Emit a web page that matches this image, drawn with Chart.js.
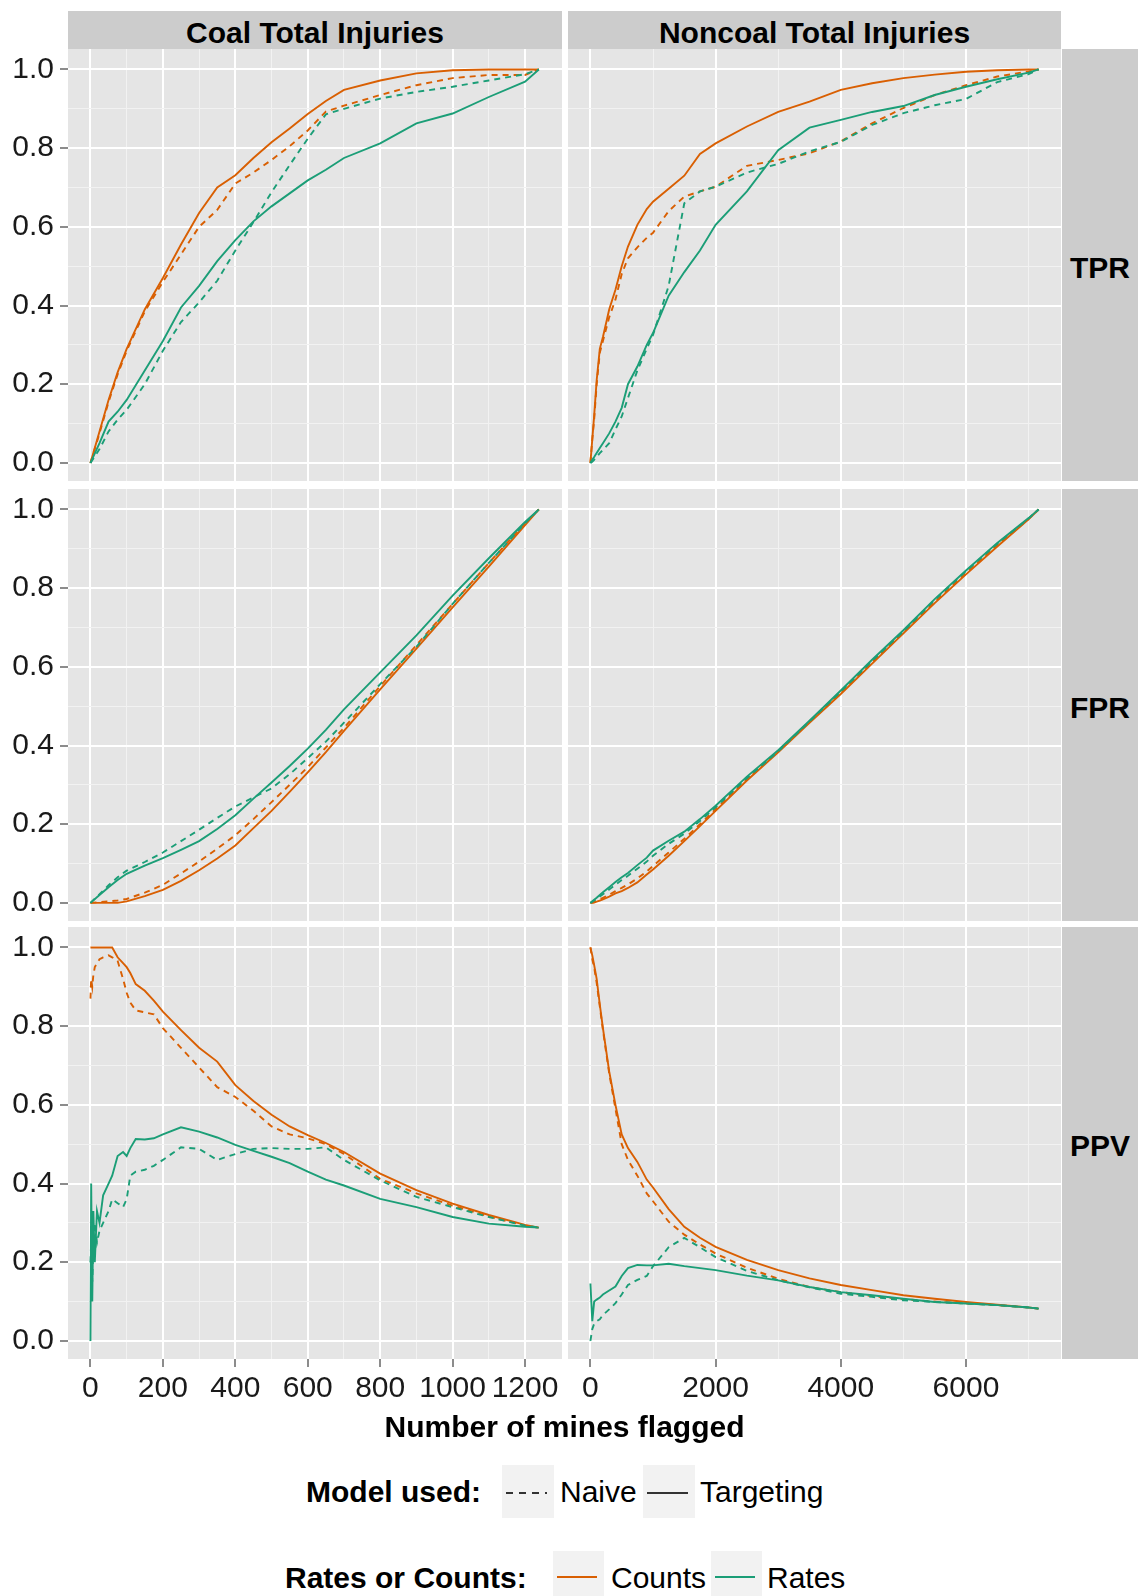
<!DOCTYPE html>
<html>
<head>
<meta charset="utf-8">
<script src="https://cdn.jsdelivr.net/npm/chart.js@4.4.1/dist/chart.umd.min.js"></script>
<style>
  body { margin: 0; background: #fff; }
  #fig { position: relative; width: 1138px; height: 1596px; overflow: hidden; font-family: "Liberation Sans", Arial, sans-serif; color: #000; }
  #fig canvas { position: absolute; }
  .strip { position: absolute; background: #ccc; }
  .stxt { position: absolute; left: 0; right: 0; text-align: center; font-size: 30px; line-height: 30px; font-weight: bold; white-space: nowrap; }
  .txt { position: absolute; font-size: 30px; line-height: 30px; white-space: nowrap; }
  .bold { font-weight: bold; }
  .key { position: absolute; background: #f2f2f2; }
  .key svg { position: absolute; left: 0; top: 0; }
</style>
</head>
<body>
<div id="fig"></div>
<script>
// ---- data ----
const coalX = [0, 25, 50, 75, 100, 150, 200, 250, 300, 350, 400, 450, 500, 550, 600, 650, 700, 800, 900, 1000, 1100, 1200, 1238];
const coalPpvX = [0, 2, 5, 8, 12, 18, 25, 35, 50, 60, 75, 90, 100, 110, 125, 150, 175, 200, 250, 300, 350, 400, 450, 500, 550, 600, 650, 700, 800, 900, 1000, 1100, 1200, 1238];
const noncoalX = [0, 30, 60, 100, 150, 200, 300, 400, 500, 600, 750, 900, 1000, 1250, 1500, 1750, 2000, 2500, 3000, 3500, 4000, 4500, 5000, 5500, 6000, 6500, 7000, 7160];

// Coal TPR
const coalTprCountsTarget = [0, 0.08, 0.16, 0.23, 0.29, 0.39, 0.47, 0.555, 0.635, 0.70, 0.731, 0.775, 0.815, 0.85, 0.887, 0.92, 0.948, 0.972, 0.99, 0.998, 1.0, 1.0, 1.0];
const coalTprCountsNaive  = [0, 0.075, 0.155, 0.225, 0.285, 0.385, 0.46, 0.53, 0.60, 0.643, 0.71, 0.738, 0.77, 0.805, 0.845, 0.893, 0.908, 0.935, 0.96, 0.978, 0.986, 0.986, 1.0];
const coalTprRatesTarget  = [0, 0.05, 0.105, 0.13, 0.16, 0.235, 0.31, 0.395, 0.45, 0.513, 0.566, 0.614, 0.652, 0.685, 0.718, 0.745, 0.775, 0.812, 0.863, 0.888, 0.93, 0.969, 1.0];
const coalTprRatesNaive   = [0, 0.035, 0.08, 0.11, 0.135, 0.2, 0.285, 0.358, 0.408, 0.463, 0.54, 0.612, 0.688, 0.757, 0.824, 0.886, 0.9, 0.926, 0.943, 0.956, 0.972, 0.988, 1.0];
// Coal FPR
const coalFprCountsTarget = [0, 0, 0, 0, 0.004, 0.017, 0.033, 0.056, 0.083, 0.113, 0.146, 0.19, 0.234, 0.282, 0.332, 0.383, 0.437, 0.543, 0.646, 0.751, 0.855, 0.96, 1.0];
const coalFprCountsNaive  = [0, 0.002, 0.004, 0.006, 0.01, 0.026, 0.046, 0.075, 0.105, 0.138, 0.172, 0.213, 0.256, 0.3, 0.345, 0.395, 0.445, 0.551, 0.655, 0.76, 0.864, 0.965, 1.0];
const coalFprRatesTarget  = [0, 0.02, 0.04, 0.058, 0.074, 0.095, 0.114, 0.135, 0.157, 0.188, 0.223, 0.265, 0.306, 0.348, 0.392, 0.44, 0.492, 0.586, 0.68, 0.781, 0.876, 0.968, 1.0];
const coalFprRatesNaive   = [0, 0.022, 0.045, 0.065, 0.082, 0.104, 0.128, 0.157, 0.186, 0.216, 0.245, 0.268, 0.291, 0.327, 0.368, 0.41, 0.458, 0.556, 0.651, 0.76, 0.864, 0.965, 1.0];
// Coal PPV
const coalPpvCountsTarget = [1, 1, 1, 1, 1, 1, 1, 1, 1, 1, 0.975, 0.96, 0.95, 0.935, 0.907, 0.89, 0.865, 0.837, 0.79, 0.745, 0.71, 0.65, 0.61, 0.575, 0.545, 0.523, 0.503, 0.48, 0.425, 0.383, 0.349, 0.32, 0.295, 0.288];
const coalPpvCountsNaive  = [0.87, 0.92, 0.9, 0.93, 0.95, 0.96, 0.97, 0.975, 0.98, 0.975, 0.966, 0.92, 0.885, 0.86, 0.84, 0.835, 0.83, 0.795, 0.745, 0.695, 0.645, 0.62, 0.585, 0.545, 0.525, 0.515, 0.5, 0.475, 0.412, 0.375, 0.344, 0.316, 0.293, 0.288];
const coalPpvRatesTarget  = [0, 0.4, 0.1, 0.33, 0.2, 0.33, 0.3, 0.37, 0.4, 0.42, 0.47, 0.48, 0.47, 0.49, 0.513, 0.512, 0.515, 0.525, 0.543, 0.532, 0.517, 0.498, 0.483, 0.468, 0.452, 0.43, 0.41, 0.395, 0.361, 0.34, 0.315, 0.298, 0.29, 0.288];
const coalPpvRatesNaive   = [0.2, 0.25, 0.15, 0.25, 0.3, 0.25, 0.28, 0.3, 0.33, 0.36, 0.35, 0.34, 0.36, 0.42, 0.43, 0.435, 0.445, 0.46, 0.492, 0.488, 0.46, 0.475, 0.488, 0.49, 0.488, 0.488, 0.492, 0.46, 0.408, 0.366, 0.34, 0.315, 0.293, 0.288];
// Noncoal TPR
const nonTprCountsTarget = [0, 0.06, 0.12, 0.21, 0.29, 0.32, 0.39, 0.44, 0.5, 0.55, 0.605, 0.645, 0.664, 0.697, 0.73, 0.785, 0.812, 0.855, 0.892, 0.918, 0.948, 0.965, 0.978, 0.987, 0.994, 0.998, 1.0, 1.0];
const nonTprCountsNaive  = [0, 0.06, 0.11, 0.2, 0.28, 0.31, 0.37, 0.415, 0.48, 0.52, 0.548, 0.572, 0.585, 0.64, 0.677, 0.69, 0.702, 0.755, 0.77, 0.787, 0.817, 0.863, 0.902, 0.935, 0.96, 0.982, 0.995, 1.0];
const nonTprRatesTarget  = [0, 0.008, 0.015, 0.025, 0.038, 0.05, 0.075, 0.105, 0.14, 0.2, 0.245, 0.3, 0.33, 0.425, 0.485, 0.54, 0.605, 0.69, 0.795, 0.852, 0.872, 0.892, 0.907, 0.935, 0.956, 0.975, 0.992, 1.0];
const nonTprRatesNaive   = [0, 0.003, 0.008, 0.015, 0.025, 0.033, 0.05, 0.085, 0.118, 0.165, 0.235, 0.29, 0.325, 0.45, 0.66, 0.69, 0.702, 0.738, 0.76, 0.792, 0.816, 0.859, 0.889, 0.909, 0.925, 0.968, 0.988, 1.0];
// Noncoal FPR
const nonFprCountsTarget = [0, 0, 0.001, 0.003, 0.006, 0.009, 0.016, 0.024, 0.03, 0.038, 0.052, 0.072, 0.085, 0.12, 0.157, 0.195, 0.234, 0.311, 0.383, 0.458, 0.531, 0.608, 0.685, 0.762, 0.835, 0.906, 0.975, 1.0];
const nonFprCountsNaive  = [0, 0.001, 0.002, 0.005, 0.009, 0.013, 0.021, 0.03, 0.038, 0.047, 0.062, 0.08, 0.094, 0.128, 0.163, 0.2, 0.238, 0.314, 0.386, 0.461, 0.535, 0.612, 0.688, 0.765, 0.838, 0.91, 0.976, 1.0];
const nonFprRatesTarget  = [0, 0.004, 0.008, 0.013, 0.02, 0.027, 0.04, 0.053, 0.065, 0.076, 0.096, 0.115, 0.133, 0.158, 0.181, 0.213, 0.247, 0.321, 0.388, 0.463, 0.54, 0.618, 0.693, 0.772, 0.845, 0.915, 0.978, 1.0];
const nonFprRatesNaive   = [0, 0.003, 0.006, 0.01, 0.016, 0.022, 0.034, 0.046, 0.058, 0.069, 0.087, 0.105, 0.12, 0.15, 0.176, 0.208, 0.243, 0.317, 0.385, 0.461, 0.537, 0.615, 0.69, 0.77, 0.843, 0.913, 0.977, 1.0];
// Noncoal PPV
const nonPpvCountsTarget = [1.0, 0.98, 0.955, 0.92, 0.855, 0.795, 0.685, 0.6, 0.525, 0.49, 0.455, 0.41, 0.39, 0.335, 0.29, 0.262, 0.239, 0.206, 0.18, 0.159, 0.142, 0.129, 0.116, 0.107, 0.099, 0.092, 0.085, 0.082];
const nonPpvCountsNaive  = [1.0, 0.97, 0.95, 0.91, 0.85, 0.79, 0.68, 0.59, 0.5, 0.46, 0.42, 0.375, 0.355, 0.303, 0.27, 0.245, 0.222, 0.186, 0.158, 0.137, 0.124, 0.114, 0.106, 0.1, 0.095, 0.091, 0.085, 0.082];
const nonPpvRatesTarget  = [0.146, 0.05, 0.1, 0.105, 0.11, 0.118, 0.128, 0.138, 0.165, 0.185, 0.193, 0.192, 0.192, 0.196, 0.19, 0.185, 0.18, 0.166, 0.154, 0.137, 0.124, 0.116, 0.107, 0.099, 0.095, 0.091, 0.085, 0.082];
const nonPpvRatesNaive   = [0, 0.03, 0.044, 0.05, 0.055, 0.066, 0.08, 0.096, 0.118, 0.142, 0.155, 0.165, 0.19, 0.238, 0.262, 0.238, 0.213, 0.178, 0.154, 0.136, 0.12, 0.112, 0.103, 0.099, 0.095, 0.091, 0.085, 0.082];

// facet labels and axis breaks
const colLabels = ["Coal Total Injuries", "Noncoal Total Injuries"];
const rowLabels = ["TPR", "FPR", "PPV"];
const coalMajor = [0, 200, 400, 600, 800, 1000, 1200];
const coalMinor = [100, 300, 500, 700, 900, 1100];
const noncoalMajor = [0, 2000, 4000, 6000];
const noncoalMinor = [1000, 3000, 5000, 7000];
const yMajor = [0, 0.2, 0.4, 0.6, 0.8, 1.0];
const yMinor = [0.1, 0.3, 0.5, 0.7, 0.9];

const COUNTS = '#D95F02';
const RATES = '#1B9E77';
const FONT = '"Liberation Sans", Arial, sans-serif';

// ---- layout (pixels) ----
const colBox = [{ left: 68, right: 562, axisW: 68 }, { left: 568, right: 1061, axisW: 0 }];
const rowBox = [{ top: 49, bottom: 481 }, { top: 489, bottom: 921 }, { top: 927, bottom: 1359 }];
const xAxisH = 60;

const columns = [
  { min: -62, max: 1302, major: coalMajor, minor: coalMinor },
  { min: -358, max: 7518, major: noncoalMajor, minor: noncoalMinor }
];

// [row][col] -> x values + series (rates first so they paint on top)
const panels = [
  [
    { x: coalX, y: [coalTprRatesTarget, coalTprRatesNaive, coalTprCountsTarget, coalTprCountsNaive] },
    { x: noncoalX, y: [nonTprRatesTarget, nonTprRatesNaive, nonTprCountsTarget, nonTprCountsNaive] }
  ],
  [
    { x: coalX, y: [coalFprRatesTarget, coalFprRatesNaive, coalFprCountsTarget, coalFprCountsNaive] },
    { x: noncoalX, y: [nonFprRatesTarget, nonFprRatesNaive, nonFprCountsTarget, nonFprCountsNaive] }
  ],
  [
    { x: coalPpvX, y: [coalPpvRatesTarget, coalPpvRatesNaive, coalPpvCountsTarget, coalPpvCountsNaive] },
    { x: noncoalX, y: [nonPpvRatesTarget, nonPpvRatesNaive, nonPpvCountsTarget, nonPpvCountsNaive] }
  ]
];
const seriesStyle = [
  { color: RATES, dash: false },
  { color: RATES, dash: true },
  { color: COUNTS, dash: false },
  { color: COUNTS, dash: true }
];

const fig = document.getElementById('fig');

// grey panel background under the grid
const panelBg = {
  id: 'panelBg',
  beforeDraw(chart) {
    const { ctx, chartArea: a } = chart;
    ctx.save();
    ctx.fillStyle = '#E5E5E5';
    ctx.fillRect(a.left, a.top, a.right - a.left, a.bottom - a.top);
    ctx.restore();
  }
};

function gridOpts(majors, showTicks) {
  const isMajor = ctx => ctx.tick && majors.includes(ctx.tick.value);
  return {
    color: ctx => isMajor(ctx) ? '#FFFFFF' : '#F2F2F2',
    lineWidth: ctx => isMajor(ctx) ? 2 : 1,
    drawTicks: showTicks,
    tickLength: 8,
    tickWidth: 2,
    tickColor: ctx => isMajor(ctx) ? '#8C8C8C' : 'rgba(0,0,0,0)'
  };
}

// keep the chart area glued to the panel rectangle
function noPad(s) {
  s.paddingLeft = 0; s.paddingRight = 0; s.paddingTop = 0; s.paddingBottom = 0;
}

function makePanel(r, c) {
  const cb = colBox[c], rb = rowBox[r], col = columns[c], p = panels[r][c];
  const showX = r === 2, showY = c === 0;
  const canvas = document.createElement('canvas');
  const w = cb.right - cb.left + cb.axisW;
  const h = rb.bottom - rb.top + (showX ? xAxisH : 0);
  canvas.width = w; canvas.height = h;
  canvas.style.left = (cb.left - cb.axisW) + 'px';
  canvas.style.top = rb.top + 'px';
  fig.appendChild(canvas);

  const xTicks = col.major.concat(col.minor).sort((a, b) => a - b);
  const yTicks = yMajor.concat(yMinor).sort((a, b) => a - b);

  new Chart(canvas, {
    type: 'line',
    data: {
      datasets: p.y.map((ys, i) => ({
        data: p.x.map((xv, j) => ({ x: xv, y: ys[j] })),
        borderColor: seriesStyle[i].color,
        borderWidth: 1.9,
        borderDash: seriesStyle[i].dash ? [6, 5] : [],
        pointRadius: 0,
        tension: 0,
        fill: false
      }))
    },
    options: {
      responsive: false,
      animation: false,
      devicePixelRatio: 1,
      events: [],
      layout: { padding: 0, autoPadding: false },
      plugins: { legend: { display: false }, tooltip: { enabled: false } },
      scales: {
        x: {
          type: 'linear', min: col.min, max: col.max,
          afterBuildTicks: s => { s.ticks = xTicks.map(v => ({ value: v })); },
          afterFit: s => { s.height = showX ? xAxisH : 0; noPad(s); },
          grid: gridOpts(col.major, showX),
          border: { display: false },
          ticks: {
            display: showX, autoSkip: false, maxRotation: 0, minRotation: 0, padding: 4,
            color: '#1A1A1A', font: { family: FONT, size: 30 },
            callback: v => col.major.includes(v) ? String(v) : ''
          }
        },
        y: {
          type: 'linear', min: -0.046, max: 1.052,
          afterBuildTicks: s => { s.ticks = yTicks.map(v => ({ value: v })); },
          afterFit: s => { s.width = cb.axisW; noPad(s); },
          grid: gridOpts(yMajor, showY),
          border: { display: false },
          ticks: {
            display: showY, autoSkip: false, padding: 6,
            color: '#1A1A1A', font: { family: FONT, size: 30 },
            callback: v => yMajor.includes(v) ? v.toFixed(1) : ''
          }
        }
      }
    },
    plugins: [panelBg]
  });
}

// strips
colLabels.forEach((lab, c) => {
  const cb = colBox[c];
  const d = document.createElement('div');
  d.className = 'strip';
  d.style.cssText = `left:${cb.left}px;top:11px;width:${cb.right - cb.left}px;height:38px;`;
  d.innerHTML = `<div class="stxt" style="top:7px">${lab}</div>`;
  fig.appendChild(d);
});
rowLabels.forEach((lab, r) => {
  const rb = rowBox[r];
  const hgt = rb.bottom - rb.top;
  const d = document.createElement('div');
  d.className = 'strip';
  d.style.cssText = `left:1062px;top:${rb.top}px;width:76px;height:${hgt}px;`;
  d.innerHTML = `<div class="stxt" style="top:${hgt / 2 - 12}px">${lab}</div>`;
  fig.appendChild(d);
});

for (let r = 0; r < 3; r++) for (let c = 0; c < 2; c++) makePanel(r, c);

// axis title + legends
function addText(txt, left, top, cls, center) {
  const d = document.createElement('div');
  d.className = 'txt ' + (cls || '');
  d.textContent = txt;
  d.style.top = top + 'px';
  if (center) { d.style.left = (left - 300) + 'px'; d.style.width = '600px'; d.style.textAlign = 'center'; }
  else d.style.left = left + 'px';
  fig.appendChild(d);
}
function addKey(left, top, w, h, lineY, color, dashed) {
  const d = document.createElement('div');
  d.className = 'key';
  d.style.cssText = `left:${left}px;top:${top}px;width:${w}px;height:${h}px;`;
  d.innerHTML = `<svg width="${w}" height="${h}"><line x1="4" y1="${lineY}" x2="${w - 7}" y2="${lineY}" stroke="${color}" stroke-width="2"${dashed ? ' stroke-dasharray="7,6"' : ''}/></svg>`;
  fig.appendChild(d);
}

addText('Number of mines flagged', 564.5, 1412, 'bold', true);

addText('Model used:', 306, 1477, 'bold');
addKey(502, 1465, 52, 53, 28, '#333333', true);
addText('Naive', 560, 1477);
addKey(643, 1465, 52, 53, 28, '#333333', false);
addText('Targeting', 700, 1477);

addText('Rates or Counts:', 285, 1563, 'bold');
addKey(553, 1551, 51, 53, 26, COUNTS, false);
addText('Counts', 611, 1563);
addKey(711, 1551, 51, 53, 26, RATES, false);
addText('Rates', 767, 1563);
</script>
</body>
</html>
